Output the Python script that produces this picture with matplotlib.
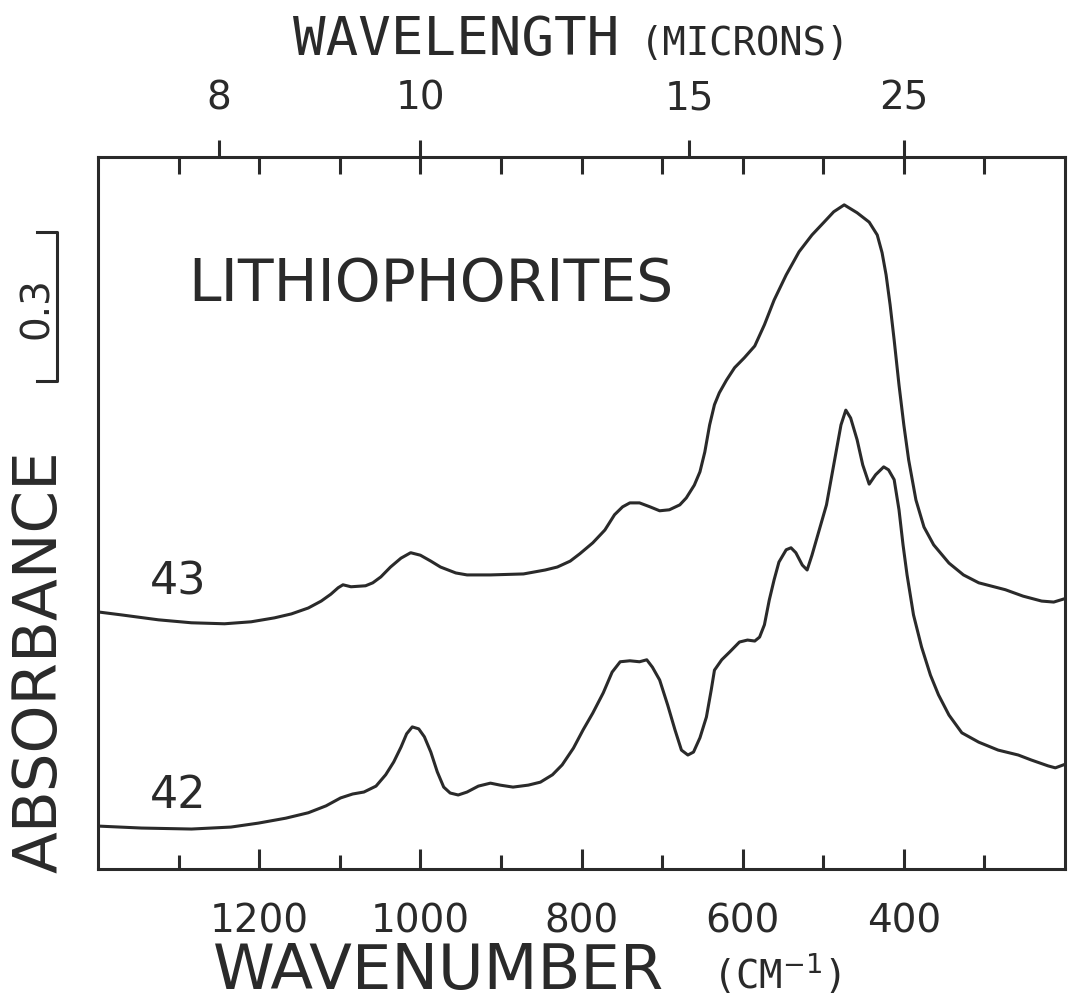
import numpy as np
import matplotlib
matplotlib.use('Agg')
import matplotlib.pyplot as plt
from matplotlib.transforms import blended_transform_factory

plt.rcParams['font.family'] = ['DejaVu Sans']
plt.rcParams['mathtext.fontset'] = 'dejavusans'
MONO = ['DejaVu Sans Mono']

# sample 43 (upper trace): wavenumber (cm-1), absorbance
wn_43 = [1400, 1371, 1325, 1284, 1243, 1210, 1181, 1160, 1139, 1123, 1111, 1102,
         1096, 1086, 1068, 1059, 1049, 1037, 1024, 1012, 1000, 987, 975, 956,
         942, 913, 872, 845, 830, 814, 802, 786, 771, 759, 749, 740, 728, 715,
         703, 691, 678, 670, 660, 653, 647, 641, 635, 629, 620, 610, 598, 585,
         573, 561, 546, 530, 514, 499, 487, 474, 458, 443, 433, 427, 422, 417,
         412, 406, 400, 394, 385, 375, 363, 344, 326, 307, 274, 252, 229, 214,
         202]
abs_43 = [0.521, 0.515, 0.505, 0.499, 0.497, 0.501, 0.509, 0.517, 0.529, 0.543,
          0.557, 0.570, 0.576, 0.572, 0.574, 0.580, 0.592, 0.612, 0.630, 0.641,
          0.636, 0.624, 0.612, 0.600, 0.596, 0.596, 0.598, 0.606, 0.612, 0.624,
          0.639, 0.661, 0.687, 0.718, 0.734, 0.742, 0.742, 0.734, 0.726, 0.728,
          0.738, 0.752, 0.778, 0.805, 0.845, 0.900, 0.941, 0.965, 0.991, 1.016,
          1.036, 1.060, 1.103, 1.153, 1.204, 1.251, 1.285, 1.311, 1.332, 1.346,
          1.330, 1.311, 1.285, 1.249, 1.204, 1.143, 1.072, 0.981, 0.900, 0.829,
          0.748, 0.693, 0.657, 0.620, 0.596, 0.580, 0.566, 0.553, 0.543, 0.541,
          0.547]

# sample 42 (lower trace)
wn_42 = [1400, 1346, 1284, 1235, 1201, 1167, 1139, 1117, 1099, 1084, 1070, 1055,
         1043, 1033, 1024, 1017, 1010, 1002, 995, 987, 979, 971, 963, 953, 942,
         928, 913, 901, 885, 866, 851, 836, 824, 810, 798, 786, 773, 762, 752,
         740, 728, 719, 712, 703, 693, 684, 676, 668, 661, 653, 645, 639, 635,
         626, 616, 604, 594, 585, 579, 573, 567, 561, 555, 546, 540, 534, 526,
         520, 514, 505, 496, 487, 478, 472, 466, 458, 451, 443, 435, 425, 419,
         412, 406, 401, 396, 388, 378, 367, 357, 344, 328, 307, 283, 258, 242,
         221, 212, 202]
abs_42 = [0.087, 0.083, 0.081, 0.085, 0.093, 0.103, 0.114, 0.128, 0.144, 0.152,
          0.156, 0.168, 0.191, 0.217, 0.247, 0.274, 0.288, 0.284, 0.268, 0.237,
          0.197, 0.166, 0.154, 0.150, 0.156, 0.168, 0.174, 0.170, 0.166, 0.170,
          0.176, 0.191, 0.211, 0.245, 0.282, 0.316, 0.357, 0.399, 0.420, 0.422,
          0.420, 0.424, 0.409, 0.383, 0.332, 0.282, 0.241, 0.231, 0.237, 0.266,
          0.308, 0.363, 0.403, 0.424, 0.440, 0.460, 0.464, 0.462, 0.470, 0.495,
          0.545, 0.586, 0.622, 0.647, 0.651, 0.641, 0.616, 0.606, 0.636, 0.687,
          0.738, 0.819, 0.900, 0.930, 0.914, 0.870, 0.819, 0.780, 0.799, 0.815,
          0.809, 0.789, 0.728, 0.657, 0.596, 0.515, 0.450, 0.393, 0.353, 0.312,
          0.276, 0.257, 0.241, 0.231, 0.221, 0.209, 0.205, 0.211]

bottom_major = [1200, 1000, 800, 600, 400]
bottom_minor = [1300, 1100, 900, 700, 500, 300]
top_microns = [8, 10, 15, 25]
top_inner = [1300, 1200, 1100, 1000, 900, 800, 700, 600, 500, 400, 300]

scale_bar_base = 0.99
scale_bar_value = 0.3

ink = '#2a2a2a'
W, H = 1068, 1008

fig = plt.figure(figsize=(W / 100, H / 100), dpi=100)
ax = fig.add_axes([98 / W, 1 - 869 / H, 967 / W, 712 / H])

ax.plot(wn_43, abs_43, color=ink, lw=2.2, solid_joinstyle='round')
ax.plot(wn_42, abs_42, color=ink, lw=2.2, solid_joinstyle='round')

ax.set_xlim(1400, 200)
ax.set_ylim(0, 1.443)
for s in ax.spines.values():
    s.set_linewidth(2.2)
    s.set_color(ink)

ax.set_yticks([])
ax.set_xticks(bottom_major)
ax.set_xticks(bottom_minor, minor=True)
ax.tick_params(axis='x', which='major', direction='in', length=14.4, width=2.2,
               color=ink, labelsize=28, pad=24, labelcolor=ink)
ax.tick_params(axis='x', which='minor', direction='in', length=10, width=2.2,
               color=ink)

# top axis: wavelength labels outside, wavenumber ticks inside
ax2 = ax.twiny()
ax2.set_xlim(ax.get_xlim())
ax2.set_xticks([1e4 / m for m in top_microns])
ax2.set_xticklabels([str(m) for m in top_microns])
ax2.set_xticks(top_inner, minor=True)
ax2.xaxis.remove_overlapping_locs = False
ax2.tick_params(axis='x', which='major', direction='out', length=12.2, width=2.2,
                color=ink, labelsize=28, pad=16, labelcolor=ink)
ax2.tick_params(axis='x', which='minor', direction='in', length=12.2, width=2.2,
                color=ink)
ax2.set_yticks([])
for s in ax2.spines.values():
    s.set_visible(False)

# 0.3 absorbance scale bar left of the frame
tr = blended_transform_factory(ax.transAxes, ax.transData)
x_bar, x_end = (57 - 98) / 967, (37 - 98) / 967
ax.plot([x_end, x_bar, x_bar, x_end],
        [scale_bar_base, scale_bar_base, scale_bar_base + scale_bar_value,
         scale_bar_base + scale_bar_value],
        transform=tr, clip_on=False, color=ink, lw=2.2)
fig.text(37 / W, 1 - 308 / H, '0.3', rotation=90, ha='center', va='center',
         fontsize=28, color=ink)

fig.text(40 / W, 1 - 662 / H, 'ABSORBANCE', rotation=90, ha='center',
         va='center', fontsize=44, color=ink)

fig.text(293 / W, 1 - 40 / H, 'WAVELENGTH', ha='left', va='center',
         fontsize=39, color=ink, family=MONO)
fig.text(640 / W, 1 - 44 / H, '(MICRONS)', ha='left', va='center',
         fontsize=28, color=ink, family=MONO)

fig.text(213 / W, 1 - 972 / H, 'WAVENUMBER', ha='left', va='center',
         fontsize=45, color=ink)
fig.text(712 / W, 1 - 974 / H, r'(CM$^{-1}$)', ha='left', va='center',
         fontsize=28, color=ink, family=MONO)

ax.text((188 - 98) / 967, 1 - (284 - 157) / 712, 'LITHIOPHORITES',
        transform=ax.transAxes, ha='left', va='center', fontsize=42, color=ink)
ax.text((150 - 98) / 967, 1 - (582 - 157) / 712, '43', transform=ax.transAxes,
        ha='left', va='center', fontsize=32, color=ink)
ax.text((150 - 98) / 967, 1 - (795 - 157) / 712, '42', transform=ax.transAxes,
        ha='left', va='center', fontsize=32, color=ink)

fig.savefig('out.png', dpi=100, facecolor='white')
